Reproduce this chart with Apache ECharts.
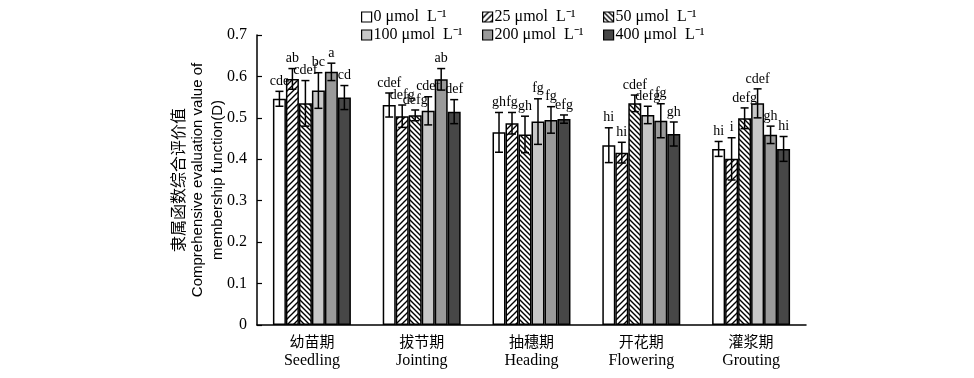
<!DOCTYPE html>
<html><head><meta charset="utf-8">
<script src="https://cdn.jsdelivr.net/npm/echarts@6/dist/echarts.min.js"></script>
<style>html,body{margin:0;padding:0;background:#fff}#c{width:974px;height:378px}</style>
</head><body><div id="c"></div>
<script>
const stagesCn = ['幼苗期','拔节期','抽穗期','开花期','灌浆期'];
const stagesEn = ['Seedling','Jointing','Heading','Flowering','Grouting'];
const treatments = ['0 μmol  L⁻¹','25 μmol  L⁻¹','50 μmol  L⁻¹','100 μmol  L⁻¹','200 μmol  L⁻¹','400 μmol  L⁻¹'];
const yTicks = [0,0.1,0.2,0.3,0.4,0.5,0.6,0.7];

const mean0   = [0.546, 0.531, 0.465, 0.434, 0.425];
const mean25  = [0.594, 0.504, 0.487, 0.416, 0.401];
const mean50  = [0.535, 0.506, 0.460, 0.535, 0.499];
const mean100 = [0.566, 0.517, 0.491, 0.507, 0.535];
const mean200 = [0.611, 0.593, 0.495, 0.493, 0.459];
const mean400 = [0.549, 0.515, 0.497, 0.461, 0.425];

const err0   = [0.018, 0.029, 0.048, 0.042, 0.018];
const err25  = [0.025, 0.027, 0.026, 0.025, 0.051];
const err50  = [0.055, 0.013, 0.044, 0.020, 0.025];
const err100 = [0.043, 0.034, 0.055, 0.021, 0.035];
const err200 = [0.021, 0.026, 0.032, 0.041, 0.021];
const err400 = [0.029, 0.029, 0.010, 0.029, 0.030];

const sig0   = ['cde','cdef','gh','hi','hi'];
const sig25  = ['ab','defg','fg','hi','i'];
const sig50  = ['cdef','defg','gh','cdef','defg'];
const sig100 = ['bc','cdef','fg','defg','cdef'];
const sig200 = ['a','ab','fg','fg','gh'];
const sig400 = ['cd','def','efg','gh','hi'];

const means = [mean0, mean25, mean50, mean100, mean200, mean400];
const errs = [err0, err25, err50, err100, err200, err400];
const sigs = [sig0, sig25, sig50, sig100, sig200, sig400];

function hatch(dir, s, lw) {
  const cv = document.createElement('canvas');
  cv.width = s; cv.height = s;
  const g = cv.getContext('2d');
  g.fillStyle = '#fff'; g.fillRect(0,0,s,s);
  g.strokeStyle = '#000'; g.lineWidth = lw;
  g.beginPath();
  if (dir === '/') {
    g.moveTo(0, s); g.lineTo(s, 0);
    g.moveTo(-s/2, s/2); g.lineTo(s/2, -s/2);
    g.moveTo(s/2, s*1.5); g.lineTo(s*1.5, s/2);
  } else {
    g.moveTo(0, 0); g.lineTo(s, s);
    g.moveTo(-s/2, s/2); g.lineTo(s/2, s*1.5);
    g.moveTo(s/2, -s/2); g.lineTo(s*1.5, s/2);
  }
  g.stroke();
  return {image: cv, repeat: 'repeat'};
}

const fills = ['#ffffff', hatch('/', 6, 1.4), hatch('\\', 5, 1.4), '#c8c8c8', '#9a9a9a', '#474747'];
const GAP = 0.29;
const font = '"Liberation Serif","Times New Roman",serif';

const series = [];
treatments.forEach((name, i) => {
  series.push({
    name: name, type: 'bar', data: means[i],
    barGap: 0, barCategoryGap: (GAP*100)+'%',
    itemStyle: {color: fills[i], borderColor: '#000', borderWidth: 1.5},
    z: 2
  });
});
treatments.forEach((name, i) => {
  series.push({
    name: 'eb' + i, type: 'custom', z: 5,
    data: means[i].map((m, k) => [k, m, errs[i][k]]),
    encode: {x: 0, y: 1},
    renderItem: function (params, api) {
      const k = api.value(0), m = api.value(1), e = api.value(2);
      const lab = sigs[i][k];
      const c = api.coord([k, m]);
      const bw = api.size([1, 0])[0] * (1 - GAP) / 6;
      const x = c[0] + (i - 2.5) * bw;
      const yt = api.coord([k, m + e])[1];
      const yb = api.coord([k, m - e])[1];
      const cap = 4;
      const st = {stroke: '#000', lineWidth: 1.5};
      return {type: 'group', children: [
        {type: 'line', shape: {x1: x, y1: yt, x2: x, y2: yb}, style: st},
        {type: 'line', shape: {x1: x - cap, y1: yt, x2: x + cap, y2: yt}, style: st},
        {type: 'line', shape: {x1: x - cap, y1: yb, x2: x + cap, y2: yb}, style: st},
        {type: 'text', style: {text: lab, x: x, y: yt - 3, align: 'center', verticalAlign: 'bottom',
          font: '14px ' + font, fill: '#000'}}
      ]};
    }
  });
});

const legendCommon = {
  itemWidth: 10, itemHeight: 10, icon: 'rect',
  textStyle: {fontFamily: font, fontSize: 16, color: '#000', padding: [0, 0, 0, -3]},
  itemStyle: {borderColor: '#000', borderWidth: 1.2},
  selectedMode: false, padding: 0
};
const legX = [361, 482, 603];
const legY = [9, 27];
const legends = treatments.map((t, i) => Object.assign({}, legendCommon,
  {left: legX[i % 3], top: legY[Math.floor(i / 3)], data: [t]}));

const chart = echarts.init(document.getElementById('c'));
chart.setOption({
  animation: false,
  backgroundColor: '#fff',
  grid: {left: 257, right: 168, top: 35, bottom: 53},
  legend: legends,
  xAxis: {
    type: 'category', data: stagesCn.map((s, k) => s + '|' + stagesEn[k]),
    axisLine: {lineStyle: {color: '#000', width: 1.5}},
    axisTick: {inside: true, length: 5, lineStyle: {color: '#000', width: 1.2}},
    axisLabel: {
      margin: 7, color: '#000', lineHeight: 19,
      formatter: v => { const p = v.split('|'); return '{cn|' + p[0] + '}\n{en|' + p[1] + '}'; },
      rich: {
        cn: {fontFamily: '"Noto Sans CJK SC"', fontSize: 15, color: '#000', lineHeight: 19},
        en: {fontFamily: font, fontSize: 16, color: '#000', lineHeight: 19}
      }
    }
  },
  yAxis: {
    type: 'value', min: 0, max: 0.7, interval: 0.1,
    axisLine: {show: true, lineStyle: {color: '#000', width: 1.5}},
    axisTick: {show: true, inside: true, length: 5, lineStyle: {color: '#000', width: 1.2}},
    splitLine: {show: false},
    axisLabel: {margin: 10, color: '#000', fontFamily: font, fontSize: 16,
      formatter: v => { const t = yTicks.find(x => Math.abs(x - v) < 1e-9); return t === 0 ? '0' : String(t); }},
    name: '{cn|隶属函数综合评价值}\n{en|Comprehensive evaluation value of}\n{en|membership function(D)}',
    nameLocation: 'middle', nameRotate: 90, nameGap: 29, nameMoveOverlap: false,
    nameTextStyle: {
      align: 'center', lineHeight: 20,
      rich: {
        cn: {fontFamily: '"Noto Sans CJK SC"', fontSize: 16, color: '#000', lineHeight: 20},
        en: {fontFamily: '"Liberation Sans", Arial, sans-serif', fontSize: 15, color: '#000', lineHeight: 20}
      }
    }
  },
  series: series
});
</script></body></html>
